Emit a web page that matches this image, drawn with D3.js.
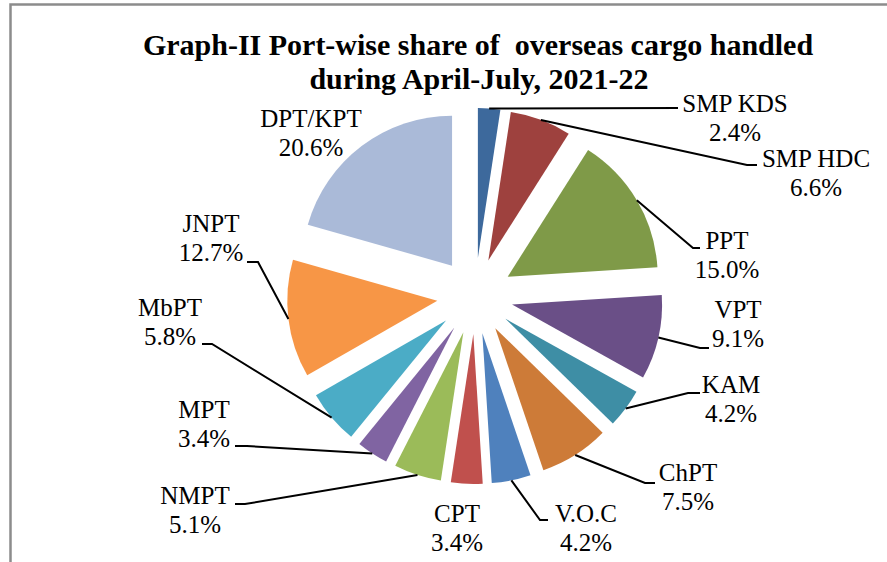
<!DOCTYPE html>
<html>
<head>
<meta charset="utf-8">
<script src="https://cdn.jsdelivr.net/npm/d3@7"></script>
<style>
  body { margin: 0; background: #fff; }
</style>
</head>
<body>
<script>
const [w, h] = [887, 562];
const fontFamily = "'Times New Roman', 'Liberation Serif', Tinos, serif";

// data, clockwise from 12 o'clock
const ports = ['SMP KDS', 'SMP HDC', 'PPT', 'VPT', 'KAM', 'ChPT', 'V.O.C', 'CPT', 'NMPT', 'MPT', 'MbPT', 'JNPT', 'DPT/KPT'];
const shares = [2.4, 6.6, 15.0, 9.1, 4.2, 7.5, 4.2, 3.4, 5.1, 3.4, 5.8, 12.7, 20.6];

// styles
const sliceColors = ['#3d699c', '#9e413e', '#7f9a48', '#6a4f87', '#3e8ea5', '#cd7b38',
  '#4f81bd', '#c0504d', '#9bbb59', '#8064a2', '#4bacc6', '#f79646', '#aabad8'];

// label layout: text centre x, first baseline y
const labelAt = [[735, 112], [816, 167], [727, 249], [738, 318], [731, 393], [688, 481],
  [586, 522], [457, 522], [195, 504], [204, 418], [170, 316], [211, 232], [311, 127]];
// leader lines after the slice edge point
const leaders = [[[678, 108]], [[747, 165], [757, 165]], [[693, 248], [700, 248]],
  [[700, 348], [709, 348]], [[688, 393], [700, 393]], [[645, 483], [655, 483]],
  [[540, 520], [548, 520]], null, [[245, 504], [235, 504]], [[247, 446], [235, 446]],
  [[212, 344], [202, 344]], [[258, 262], [247, 262]], null];

const [cx, cy, r, explode] = [475, 296, 150, 38];

const svg = d3.select('body').append('svg')
  .attr('width', w)
  .attr('height', h)
  .attr('font-family', fontFamily);

// chart frame
svg.append('rect')
  .attr('x', 10.5).attr('y', 4.5)
  .attr('width', 920).attr('height', 620)
  .attr('fill', 'none')
  .attr('stroke', '#8c8c8c')
  .attr('stroke-width', 2.5);

svg.append('text')
  .attr('x', 478).attr('y', 55)
  .attr('text-anchor', 'middle')
  .attr('font-size', 30).attr('font-weight', 'bold')
  .style('white-space', 'pre')
  .text('Graph-II Port-wise share of  overseas cargo handled');
svg.append('text')
  .attr('x', 479).attr('y', 89)
  .attr('text-anchor', 'middle')
  .attr('font-size', 30).attr('font-weight', 'bold')
  .text('during April-July, 2021-22');

const pie = d3.pie().sort(null).value(d => d);
const arcs = pie(shares);
const arc = d3.arc().innerRadius(0).outerRadius(r);

let shift = (a, dist) => {
  const mid = (a.startAngle + a.endAngle) / 2;
  return [Math.sin(mid) * dist, -Math.cos(mid) * dist];
};

const g = svg.append('g').attr('transform', `translate(${cx}, ${cy})`);

g.selectAll('path.slice')
  .data(arcs)
  .enter()
  .append('path')
  .attr('class', 'slice')
  .attr('d', arc)
  .attr('fill', (d, i) => sliceColors[i])
  .attr('transform', d => `translate(${shift(d, explode)})`);

// leader lines from the slice rim at mid angle
const line = d3.line();
arcs.forEach((a, i) => {
  if (!leaders[i]) return;
  const [ox, oy] = shift(a, explode + r);
  const pts = [[cx + ox, cy + oy], ...leaders[i]];
  svg.append('path')
    .attr('d', line(pts))
    .attr('fill', 'none')
    .attr('stroke', '#000')
    .attr('stroke-width', 2);
});

const labels = svg.selectAll('text.lbl')
  .data(arcs)
  .enter()
  .append('text')
  .attr('class', 'lbl')
  .attr('text-anchor', 'middle')
  .attr('font-size', 25);

labels.append('tspan')
  .attr('x', (d, i) => labelAt[i][0])
  .attr('y', (d, i) => labelAt[i][1])
  .text((d, i) => ports[i]);
labels.append('tspan')
  .attr('x', (d, i) => labelAt[i][0])
  .attr('y', (d, i) => labelAt[i][1] + 28.5)
  .text(d => d.data.toFixed(1) + '%');
</script>
</body>
</html>
